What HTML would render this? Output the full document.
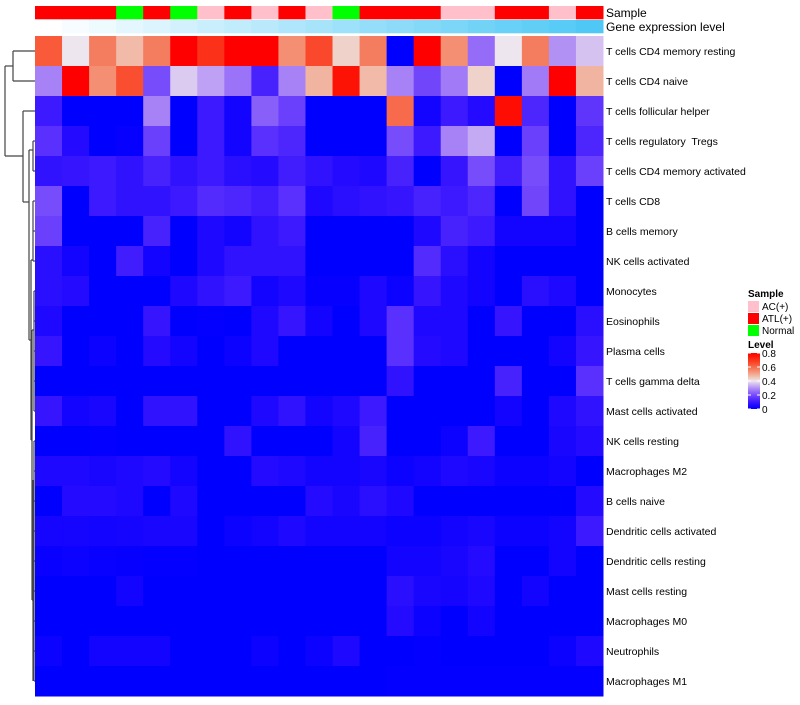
<!DOCTYPE html>
<html><head><meta charset="utf-8"><style>
body{margin:0;background:#fff;font-family:"Liberation Sans",sans-serif}
svg text{font-family:"Liberation Sans",sans-serif;white-space:pre}
</style></head><body>
<svg id="c" width="800" height="700" xmlns="http://www.w3.org/2000/svg"></svg>
<script>
const rows=["T cells CD4 memory resting","T cells CD4 naive","T cells follicular helper","T cells regulatory  Tregs","T cells CD4 memory activated","T cells CD8","B cells memory","NK cells activated","Monocytes","Eosinophils","Plasma cells","T cells gamma delta","Mast cells activated","NK cells resting","Macrophages M2","B cells naive","Dendritic cells activated","Dendritic cells resting","Mast cells resting","Macrophages M0","Neutrophils","Macrophages M1"];
const samples=["ATL","ATL","ATL","Normal","ATL","Normal","AC","ATL","AC","ATL","AC","Normal","ATL","ATL","ATL","AC","AC","ATL","ATL","AC","ATL"];
const values=[
[0.63,0.4,0.57,0.47,0.57,0.8,0.7,0.8,0.8,0.54,0.66,0.43,0.57,0,0.8,0.54,0.25,0.4,0.57,0.3,0.36],
[0.28,0.8,0.54,0.65,0.2,0.37,0.32,0.26,0.12,0.28,0.48,0.76,0.47,0.28,0.19,0.27,0.43,0,0.27,0.8,0.48],
[0.1,0,0,0,0.28,0,0.1,0.03,0.23,0.18,0,0,0,0.6,0.03,0.1,0.06,0.77,0.13,0,0.16],
[0.15,0.06,0,0.01,0.18,0,0.1,0.03,0.15,0.13,0,0,0,0.2,0.1,0.28,0.33,0,0.18,0,0.13],
[0.08,0.09,0.1,0.08,0.12,0.08,0.1,0.07,0.06,0.11,0.08,0.06,0.05,0.12,0,0.09,0.2,0.11,0.2,0.08,0.18],
[0.2,0,0.1,0.08,0.08,0.1,0.14,0.13,0.11,0.15,0.05,0.07,0.08,0.09,0.12,0.1,0.13,0,0.19,0.08,0],
[0.18,0,0,0,0.12,0,0.05,0.03,0.08,0.1,0,0,0,0,0.05,0.12,0.1,0.03,0.03,0.03,0],
[0.07,0.03,0,0.11,0.03,0,0.05,0.08,0.08,0.08,0,0,0,0,0.14,0.07,0.03,0,0,0,0],
[0.07,0.06,0,0,0,0.05,0.08,0.1,0.03,0.05,0.01,0.01,0.05,0.02,0.09,0.05,0.03,0,0.07,0.05,0],
[0.05,0,0,0,0.09,0,0.005,0,0.05,0.09,0.03,0,0.05,0.15,0.05,0.05,0,0.09,0,0,0.07],
[0.09,0,0.02,0,0.06,0.03,0,0.02,0.05,0,0,0,0,0.15,0.06,0.05,0,0,0,0.03,0.09],
[0,0,0,0,0,0,0,0,0,0,0,0,0,0.08,0,0,0,0.12,0,0,0.15],
[0.09,0.03,0.04,0,0.08,0.08,0,0,0.05,0.08,0.03,0.05,0.1,0,0,0,0,0.03,0,0.05,0.08],
[0,0,0.005,0,0,0,0,0.08,0,0,0,0.03,0.12,0,0,0.02,0.1,0,0,0.04,0.06],
[0.05,0.05,0.04,0.05,0.06,0.03,0,0,0.06,0.05,0.03,0.03,0.04,0.02,0.03,0.05,0.04,0.02,0.02,0.03,0],
[0,0.06,0.06,0.05,0,0.05,0,0,0,0,0.06,0.04,0.07,0.05,0,0,0,0,0,0,0.06],
[0.035,0.035,0.03,0.035,0.04,0.04,0,0.02,0.03,0.05,0.03,0.03,0.03,0.02,0.02,0.03,0.04,0.02,0.02,0.03,0.1],
[0.015,0.02,0.015,0.01,0.005,0.005,0,0,0,0,0,0,0,0.03,0.03,0.04,0.06,0,0,0.03,0],
[0,0,0,0.03,0,0,0,0,0,0,0,0,0,0.07,0.04,0.035,0.05,0,0.03,0,0],
[0,0,0,0,0,0,0,0,0,0,0,0,0,0.06,0.02,0,0.03,0,0,0,0],
[0.02,0,0.03,0.03,0.03,0,0,0,0.02,0,0.02,0.05,0,0,0.005,0,0,0,0,0.02,0.05],
[0,0,0,0,0,0,0,0,0,0,0,0,0,0.005,0.005,0.005,0.005,0.005,0.005,0.005,0.005]
];
const sampleColors={AC:"#ffc0cb",ATL:"#ff0000",Normal:"#00ff00"};
const sampleLabels={AC:"AC(+)",ATL:"ATL(+)",Normal:"Normal"};
const levelTicks=[0,0.2,0.4,0.6,0.8];

const NS="http://www.w3.org/2000/svg";
const svg=document.getElementById('c');
function mk(t,a,p){const e=document.createElementNS(NS,t);for(const k in a)e.setAttribute(k,a[k]);(p||svg).appendChild(e);return e;}
function col(v){
  v=Math.max(0,Math.min(0.8,v));
  if(v<=0.4){const t=v/0.4;return `rgb(${Math.round(238*t)},${Math.round(230*Math.pow(t,1.6))},${Math.round(255-17*t*t)})`;}
  const s=(v-0.4)/0.4;return `rgb(${Math.round(238+17*s)},${Math.round(230*Math.pow(1-s,1.1))},${Math.round(230*Math.pow(1-s,1.6))})`;
}
const X0=35,X1=603,Y0=36,RH=30;
const cw=(X1-X0)/samples.length;
const xs=i=>X0+i*cw, ys=r=>Y0+r*RH;

samples.forEach((s,i)=>{
  const r=mk('rect',{x:xs(i),y:6,width:cw+0.5,height:13.3,fill:sampleColors[s]});
  
  
  const t=i/(samples.length-1);
  const g=mk('rect',{x:xs(i),y:20,width:cw+0.5,height:13.3,fill:`rgb(${Math.round(255-176*t)},${Math.round(255-55*t)},${Math.round(255-10*t)})`});
  
  
});
let t1=mk('text',{x:606,y:17,'font-size':12});t1.textContent="Sample";

let t2=mk('text',{x:606,y:31,'font-size':12});t2.textContent="Gene expression level";


values.forEach((row,r)=>{
  row.forEach((v,c)=>{
    const e=mk('rect',{x:xs(c),y:ys(r),width:cw+0.5,height:RH+0.5,fill:col(v)});
    
    
  });
  const t=mk('text',{x:606,y:ys(r)+RH/2+4,'font-size':10.5});
  t.textContent=rows[r];
  
  
});

const cy=r=>ys(r)+RH/2;
const dg=mk('g',{stroke:'#444','stroke-width':1.2,fill:'none'});

function seg(x1,y1,x2,y2){mk('path',{d:`M${x1} ${y1}L${x2} ${y2}`},dg);}
seg(5,66,5,156);seg(5,66,13,66);seg(5,156,23,156);
seg(13,cy(0),13,cy(1));seg(13,cy(0),35,cy(0));seg(13,cy(1),35,cy(1));
seg(23,cy(2),23,202);seg(23,cy(2),35,cy(2));seg(23,202,29,202);
seg(29,150,29,340);seg(29,150,33,150);seg(29,340,31,340);
seg(33,cy(3),33,cy(4));seg(33,cy(3),35,cy(3));seg(33,cy(4),35,cy(4));
seg(31,260,31,440);seg(31,260,33,260);seg(31,440,32,440);
seg(33,cy(5),33,cy(7));seg(33,cy(5),35,cy(5));seg(33,cy(6),35,cy(6));seg(33,cy(7),35,cy(7));
seg(32,330,32,600);seg(32,330,34,330);seg(32,600,33,600);
seg(34,cy(8),34,cy(12));
seg(33,480,33,cy(21));
for(let r=8;r<22;r++)seg(34,cy(r),35,cy(r));
seg(34,cy(13),34,cy(21));

let lt=mk('text',{x:748,y:297,'font-size':10,'font-weight':'bold'});lt.textContent="Sample";

["AC","ATL","Normal"].forEach((k,i)=>{
  const r=mk('rect',{x:748,y:301+i*12,width:11,height:11,fill:sampleColors[k]});
  
  const t=mk('text',{x:762,y:310+i*12,'font-size':10});t.textContent=sampleLabels[k];
  
});
let lv=mk('text',{x:748,y:348,'font-size':10,'font-weight':'bold'});lv.textContent="Level";

const defs=mk('defs',{});
const grad=mk('linearGradient',{id:'lg',x1:0,y1:1,x2:0,y2:0},defs);
for(let i=0;i<=16;i++){const v=i*0.05;mk('stop',{offset:(v/0.8),'stop-color':col(v)},grad);}
const cb=mk('rect',{x:748,y:353,width:12,height:56,fill:'url(#lg)'});

const ly=v=>409-v*70;
levelTicks.forEach(v=>{
  mk('path',{d:`M748 ${ly(v)}h3M757 ${ly(v)}h3`,stroke:'#fff','stroke-width':1});
  const t=mk('text',{x:762,y:ly(v)+4,'font-size':10});t.textContent=String(v);
  
});
</script>
</body></html>
